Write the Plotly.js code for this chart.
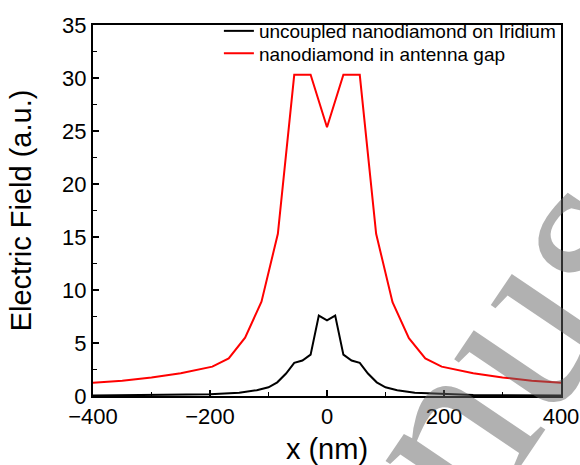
<!DOCTYPE html>
<html>
<head>
<meta charset="utf-8">
<script src="https://cdn.plot.ly/plotly-3.0.1.min.js"></script>
<style>html,body{margin:0;padding:0;background:#fff;}#chart{width:580px;height:465px;}</style>
</head>
<body>
<div id="chart"></div>
<script>
// Data
const redName = "nanodiamond in antenna gap";
const blackName = "uncoupled nanodiamond on Iridium";
const redX = [-400,-350,-300,-250,-196,-168,-140,-112,-84,-56,-28,0,28,56,84,112,140,168,196,250,300,350,400];
const redY = [1.25,1.45,1.75,2.15,2.77,3.55,5.5,8.9,15.3,30.3,30.3,25.35,30.3,30.3,15.3,8.85,5.45,3.55,2.77,2.15,1.75,1.45,1.25];
const blackX = [-400,-300,-250,-200,-150,-120,-100,-85,-70,-56,-42,-28,-14,0,14,28,42,56,70,85,100,120,150,200,250,300,400];
const blackY = [0.04,0.07,0.1,0.17,0.3,0.55,0.82,1.29,2.12,3.13,3.35,3.9,7.59,7.13,7.59,3.9,3.35,3.13,2.12,1.29,0.82,0.55,0.3,0.17,0.1,0.07,0.04];
const xTitle = "x (nm)";
const yTitle = "Electric Field (a.u.)";
const watermark = "Manuscript";

const traces = [
  {x: blackX, y: blackY, name: blackName, mode: "lines", line: {color: "#000000", width: 2}, legend: "legend"},
  {x: redX, y: redY, name: redName, mode: "lines", line: {color: "#ff0000", width: 2}, legend: "legend2"}
];

const font = "'Liberation Sans', Arial, sans-serif";
const legendCommon = {xanchor: "left", yanchor: "top", bgcolor: "rgba(0,0,0,0)",
                      font: {family: font, size: 19, color: "#000"}};
const layout = {
  width: 580, height: 465,
  margin: {l: 93, r: 19, t: 16, b: 69},
  paper_bgcolor: "#ffffff", plot_bgcolor: "#ffffff",
  font: {family: font, color: "#000000", size: 22},
  showlegend: true,
  legend: Object.assign({x: 0.269, y: 1.035}, legendCommon),
  legend2: Object.assign({x: 0.269, y: 0.9745}, legendCommon),
  xaxis: {
    range: [-400, 400], dtick: 200, tick0: 0, ticks: "inside", ticklen: 6, tickwidth: 1.5, tickcolor: "#000",
    minor: {dtick: 100, ticks: "inside", ticklen: 4, tickwidth: 1.5, tickcolor: "#000"},
    showline: true, linecolor: "#000", linewidth: 2, mirror: true, showgrid: false, zeroline: false,
    tickfont: {size: 22, family: font}, title: {text: xTitle, font: {size: 29, family: font}, standoff: 19},
    automargin: false
  },
  yaxis: {
    range: [0, 35], dtick: 5, tick0: 0, ticks: "inside", ticklen: 6, tickwidth: 1.5, tickcolor: "#000",
    minor: {dtick: 2.5, ticks: "inside", ticklen: 4, tickwidth: 1.5, tickcolor: "#000"},
    showline: true, linecolor: "#000", linewidth: 2, mirror: true, showgrid: false, zeroline: false,
    tickfont: {size: 22, family: font}, title: {text: yTitle, font: {size: 29, family: font}, standoff: 22},
    automargin: false
  },
  annotations: [{
    text: watermark, xref: "paper", yref: "paper", x: 0.955, y: 0.295, xanchor: "center", yanchor: "middle",
    showarrow: false, textangle: -56,
    font: {family: "'Liberation Serif', 'Times New Roman', serif", size: 250, color: "rgba(100,100,100,0.5)"}
  }]
};
Plotly.newPlot("chart", traces, layout, {displayModeBar: false, staticPlot: true});
</script>
</body>
</html>
